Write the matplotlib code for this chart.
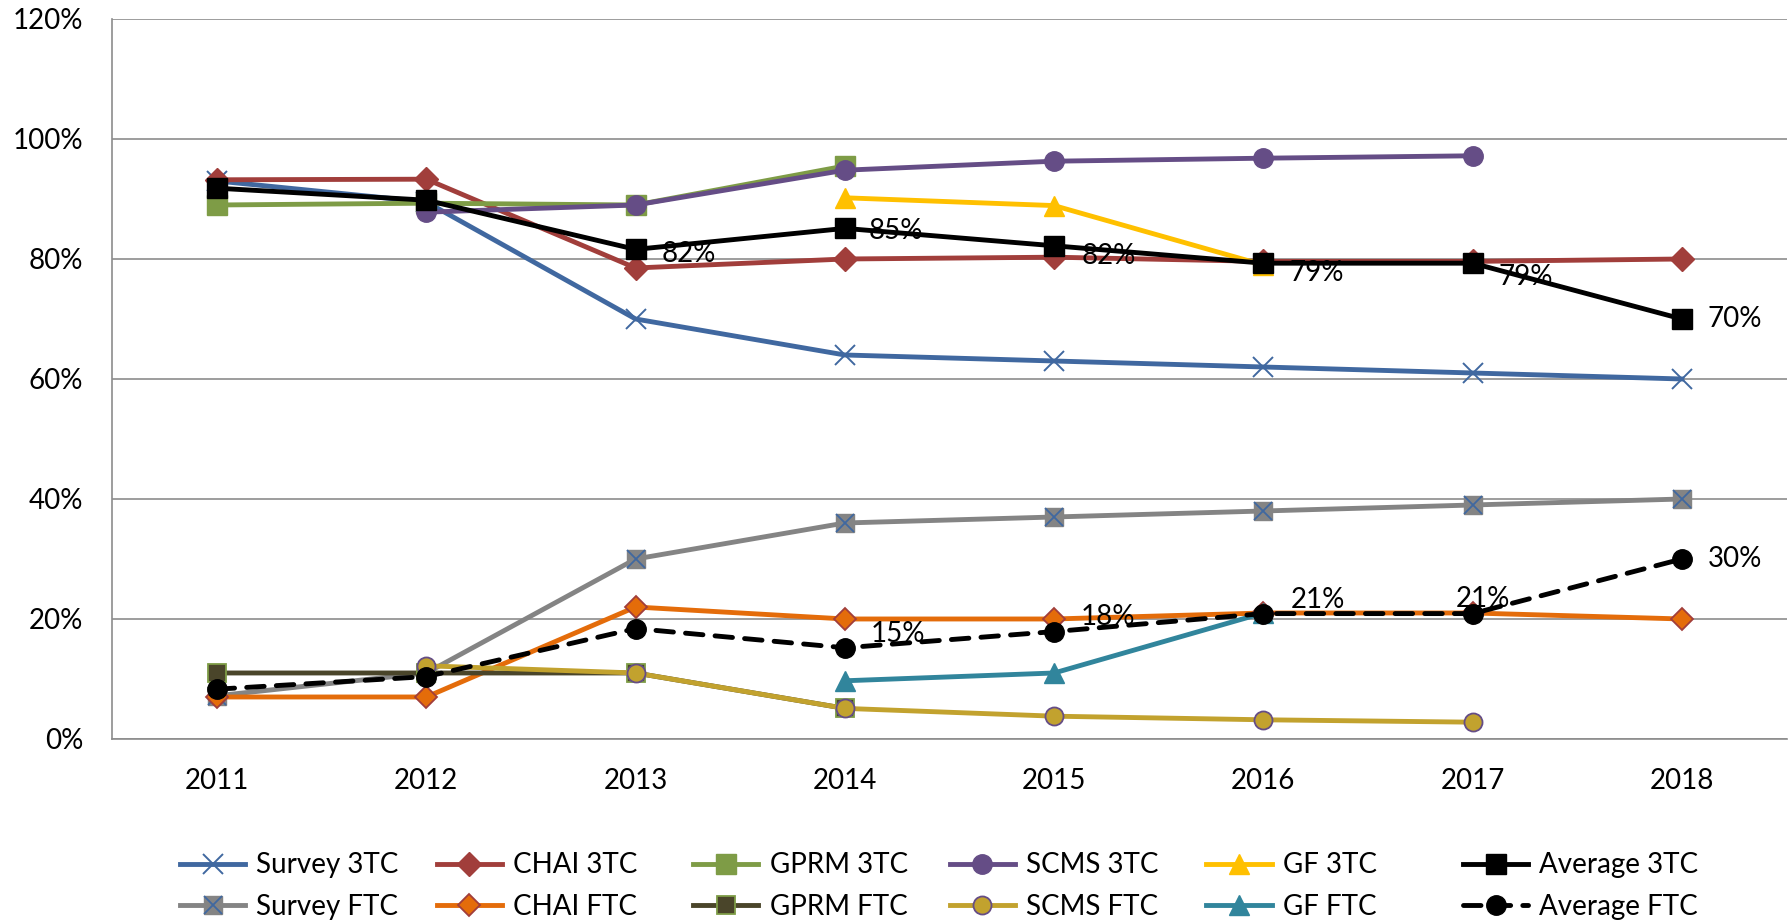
import numpy as np
import matplotlib
matplotlib.use("Agg")
import matplotlib.pyplot as plt
from matplotlib.ticker import PercentFormatter
from matplotlib.legend_handler import HandlerTuple

plt.rcParams['font.family'] = ['Lato', 'DejaVu Sans']

nan = np.nan
years = ['2011', '2012', '2013', '2014', '2015', '2016', '2017', '2018']

# 3TC series
survey_3tc = [0.93, 0.895, 0.70, 0.64, 0.63, 0.62, 0.61, 0.60]
chai_3tc = [0.932, 0.933, 0.785, 0.80, 0.803, 0.796, 0.796, 0.80]
gprm_3tc = [0.89, 0.893, 0.89, 0.955, nan, nan, nan, nan]
scms_3tc = [nan, 0.878, 0.89, 0.948, 0.963, 0.968, 0.972, nan]
gf_3tc = [nan, nan, nan, 0.902, 0.889, 0.79, nan, nan]
avg_3tc = [0.918, 0.898, 0.816, 0.851, 0.822, 0.793, 0.793, 0.70]

# FTC series
survey_ftc = [0.072, 0.11, 0.30, 0.36, 0.37, 0.38, 0.39, 0.40]
chai_ftc = [0.07, 0.07, 0.22, 0.20, 0.20, 0.21, 0.21, 0.20]
gprm_ftc = [0.11, 0.11, 0.11, 0.051, nan, nan, nan, nan]
scms_ftc = [nan, 0.122, 0.11, 0.051, 0.038, 0.032, 0.028, nan]
gf_ftc = [nan, nan, nan, 0.097, 0.11, 0.21, nan, nan]
avg_ftc = [0.083, 0.104, 0.184, 0.152, 0.179, 0.209, 0.209, 0.30]

# which average points carry a data label, with label offsets (pixels)
avg_3tc_lbl = {2: (26, -5), 3: (24, -3), 4: (27, -10), 5: (26, -10), 6: (26, -14), 7: (26, 0)}
avg_ftc_lbl = {3: (26, 14), 4: (27, 15), 5: (27, 14), 6: (-17, 15), 7: (26, 0)}

BLUE = '#4068A0'
RED = '#A13E3B'
GREEN = '#7E9C46'
PURPLE = '#654D86'
GOLD = '#FFC000'
GRAY = '#848484'
ORANGE = '#E46C0A'
OLIVE = '#4A452A'
MUSTARD = '#C2A22E'
TEAL = '#31859C'
GRID = '#8C8C8C'
FS = 20

fig = plt.figure(figsize=(17.88, 9.22), dpi=100)
ax = fig.add_axes([0.0629, 0.1985, 0.9363, 0.7809])
x = np.arange(len(years))
LW = 3.5

def series(y, color, **kw):
    y = np.array(y, dtype=float)
    m = ~np.isnan(y)
    ln, = ax.plot(x[m], y[m], color=color, lw=LW, clip_on=False, **kw)
    return ln

h = {}
h['Survey 3TC'] = series(survey_3tc, BLUE, marker='x', ms=15, mew=1.4, mec=BLUE)
h['CHAI 3TC'] = series(chai_3tc, RED, marker='D', ms=12, mfc=RED, mec=RED)
h['GPRM 3TC'] = series(gprm_3tc, GREEN, marker='s', ms=14, mfc=GREEN, mec=GREEN)
h['SCMS 3TC'] = series(scms_3tc, PURPLE, marker='o', ms=14, mfc=PURPLE, mec=PURPLE)
h['GF 3TC'] = series(gf_3tc, GOLD, marker='^', ms=15, mfc=GOLD, mec=GOLD)
h['Average 3TC'] = series(avg_3tc, 'black', marker='s', ms=14, mfc='black', mec='black')

sq = series(survey_ftc, GRAY, marker='s', ms=13, mfc=GRAY, mec=GRAY)
xm, = ax.plot(x, survey_ftc, ls='none', marker='x', ms=13, mew=1.3, mec=BLUE, clip_on=False)
h['Survey FTC'] = (sq, xm)
h['CHAI FTC'] = series(chai_ftc, ORANGE, marker='D', ms=11, mfc=ORANGE, mec=RED, mew=1.3)
h['GPRM FTC'] = series(gprm_ftc, OLIVE, marker='s', ms=13, mfc=OLIVE, mec=GREEN, mew=1.3)
h['SCMS FTC'] = series(scms_ftc, MUSTARD, marker='o', ms=13, mfc=MUSTARD, mec=PURPLE, mew=1.3)
h['GF FTC'] = series(gf_ftc, TEAL, marker='^', ms=15, mfc=TEAL, mec=TEAL)
h['Average FTC'] = series(avg_ftc, 'black', marker='o', ms=14, mfc='black', mec='black',
                          ls=(0, (3.6, 2.5)), dash_capstyle='round')

for i, (dx, dy) in avg_3tc_lbl.items():
    ax.annotate(f"{avg_3tc[i]:.0%}", (x[i], avg_3tc[i]), xytext=(dx, dy),
                textcoords='offset pixels', ha='left', va='center', fontsize=FS, zorder=10)
for i, (dx, dy) in avg_ftc_lbl.items():
    ax.annotate(f"{avg_ftc[i]:.0%}", (x[i], avg_ftc[i]), xytext=(dx, dy),
                textcoords='offset pixels', ha='left', va='center', fontsize=FS, zorder=10)

ax.set_xlim(-0.5, len(years) - 0.5)
ax.set_ylim(0, 1.2)
ax.set_yticks(np.arange(0, 1.21, 0.2))
ax.yaxis.set_major_formatter(PercentFormatter(1, decimals=0))
ax.set_xticks(x)
ax.set_xticklabels(years)
ax.tick_params(axis='both', length=0, labelsize=FS)
ax.tick_params(axis='y', pad=21)
ax.tick_params(axis='x', pad=21)
ax.grid(axis='y', color=GRID, lw=1.2)
ax.set_axisbelow(True)
for s in ['top', 'right']:
    ax.spines[s].set_visible(False)
for s in ['left', 'bottom']:
    ax.spines[s].set_color(GRID)
    ax.spines[s].set_linewidth(1.2)

# legend: six columns, each a 3TC/FTC pair
names = ['Survey', 'CHAI', 'GPRM', 'SCMS', 'GF', 'Average']
W, H = fig.get_size_inches() * fig.dpi
for c, n in enumerate(names):
    labs = [n + ' 3TC', n + ' FTC']
    fig.legend([h[l] for l in labs], labs, loc='center left',
               bbox_to_anchor=((180 + c * 256.6) / W, 1 - 886 / H),
               frameon=False, fontsize=FS, handlelength=2.35, handletextpad=0.4,
               labelspacing=0.55, borderpad=0, borderaxespad=0,
               handler_map={tuple: HandlerTuple(ndivide=1, pad=0)})

fig.savefig('out.png', dpi=100)
